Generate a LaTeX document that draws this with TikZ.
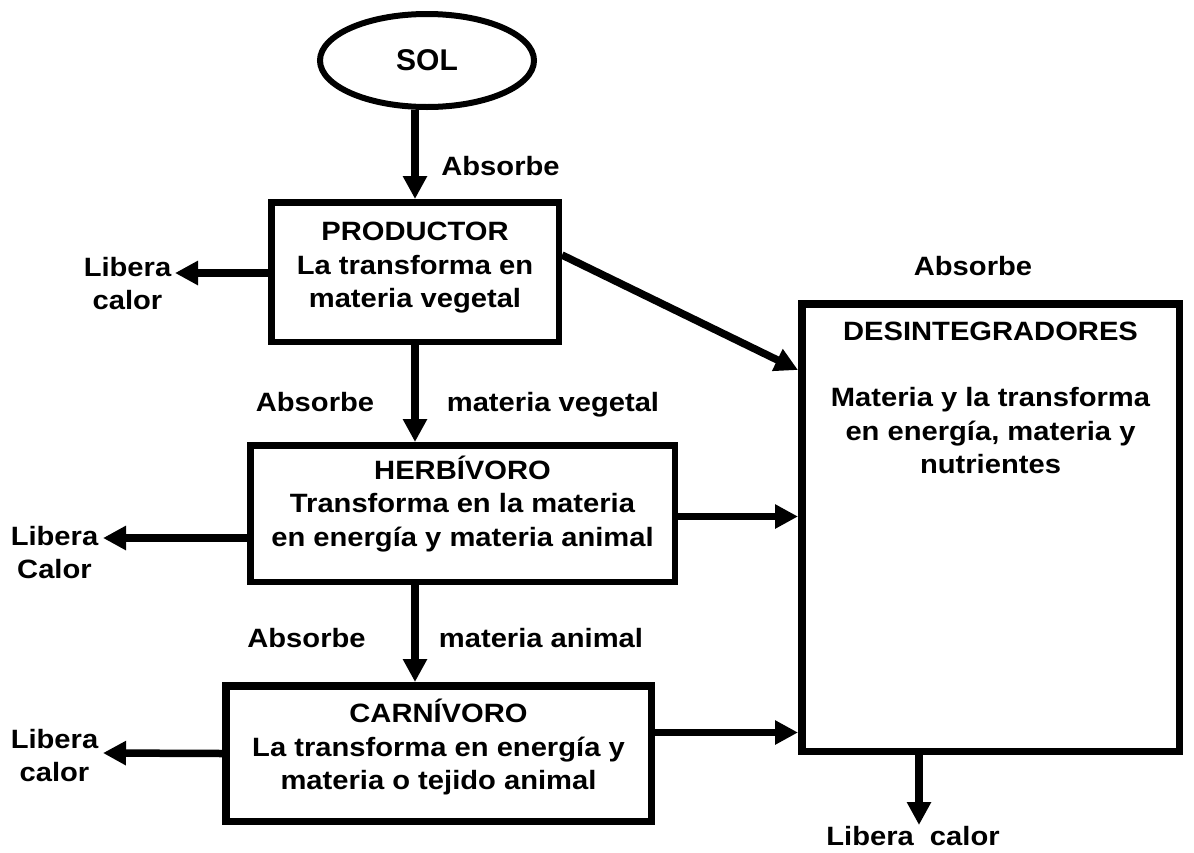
\documentclass[tikz,border=0pt]{standalone}
\usepackage{fontspec}
\setmainfont{Liberation Sans}[FakeStretch=1.1]
\newfontfamily\solfont{Liberation Sans}
\usetikzlibrary{arrows.meta,shapes.geometric}
\begin{document}
\begin{tikzpicture}[x=1pt,y=-1pt,
  every node/.style={font=\bfseries\fontsize{26.5}{33.5}\selectfont, inner sep=0pt},
  box/.style={draw, rectangle, line width=6.5pt},
  boxthick/.style={draw, rectangle, line width=7.5pt},
  arr/.style={line width=7.5pt, -{Triangle[length=23pt,width=23pt]}},
  txt/.style={align=center},
  twoline/.style={align=center, anchor=north},
  lab/.style={anchor=base}
]
\fill[white] (0,0) rectangle (1194,852);
\useasboundingbox (0,0) rectangle (1194,852);

% shapes
\node[draw, ellipse, line width=6pt, minimum width=214pt, minimum height=93pt,
      font=\solfont\bfseries\fontsize{30}{36}\selectfont] (sol) at (427,60.5) {SOL};
\node[box, minimum width=287.5pt, minimum height=139.5pt] (prod) at (415,272) {};
\node[txt] (prodtxt) at (415,268) {PRODUCTOR\\La transforma en\\materia vegetal};
\node[box, minimum width=424.5pt, minimum height=136.5pt] (herb) at (462.5,513.5) {};
\node[txt] (herbtxt) at (462.5,504) {HERBÍVORO\\Transforma en la materia\\en energía y materia animal};
\node[boxthick, minimum width=425.5pt, minimum height=135.5pt] (carn) at (438.5,753.5) {};
\node[txt] (carntxt) at (438.5,747) {CARNÍVORO\\La transforma en energía y\\materia o tejido animal};
\node[boxthick, minimum width=377.5pt, minimum height=447.5pt] (des) at (990.5,527.5) {};
\node[txt, anchor=north] (destxt) at (990.5,322) {DESINTEGRADORES\\[32.5pt]Materia y la transforma\\en energía, materia y\\nutrientes};

% labels
\node[lab] (abs1) at (500.5,175) {Absorbe};
\node[twoline] (lib1) at (127.5,257) {Libera\\calor};
\node[lab] (abs2) at (315,411) {Absorbe};
\node[lab] (mv) at (553,411) {materia vegetal};
\node[twoline] (lib2) at (54.5,526) {Libera\\Calor};
\node[lab] (abs3) at (306.5,647) {Absorbe};
\node[lab] (ma) at (541,647) {materia animal};
\node[twoline] (lib3) at (54.5,729) {Libera\\calor};
\node[lab] (abs4) at (973,275) {Absorbe};
\node[lab] (lib4) at (913,845) {Libera\ \ calor};

% free ends
\coordinate (lp) at (175,273);
\coordinate (lh) at (103,538);
\coordinate (lc) at (103,753);
\coordinate (ld) at (919,825);

% connectors
\draw[arr] (sol.south -| prod.north) -- (prod.north);
\draw[arr] (prod.south) -- (herb.north -| prod.south);
\draw[arr] (herb.south -| prod.south) -- (carn.north -| prod.south);
\draw[arr] ([yshift=-1pt]prod.west) -- (lp);
\draw[arr] ([yshift=-24.5pt]herb.west) -- (lh);
\draw[arr] (carn.west) -- (lc);
\draw[arr] ([yshift=-3pt]herb.east) -- ([yshift=-3pt]herb.east -| des.west);
\draw[arr] ([yshift=21pt]carn.east) -- ([yshift=21pt]carn.east -| des.west);
\draw[arr] ([yshift=17pt]prod.east) -- ([yshift=157.5pt]des.west);
\draw[arr] ([xshift=-71.5pt]des.south) -- (ld);
\end{tikzpicture}
\end{document}
